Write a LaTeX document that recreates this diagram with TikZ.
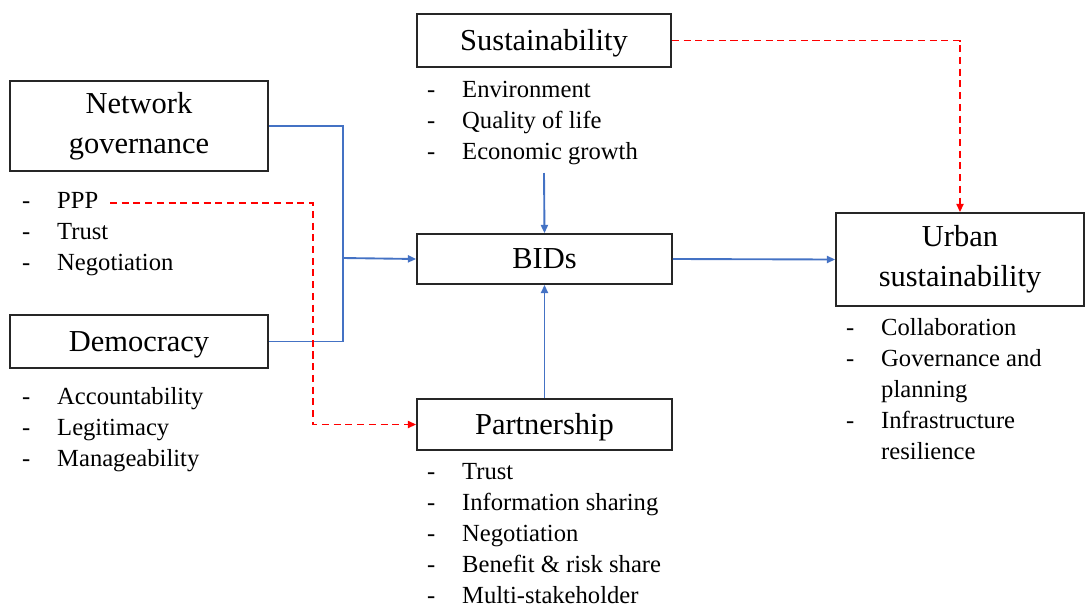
\documentclass[tikz,border=0pt]{standalone}
\usepackage{fontspec}
\setmainfont{LiberationSerif}[Extension=.ttf,UprightFont=*-Regular,BoldFont=*-Bold]
\usetikzlibrary{arrows.meta}
\usetikzlibrary{positioning}
\definecolor{linkblue}{RGB}{68,114,196}
\newcommand{\itemlist}[1]{\begin{tabular}[t]{@{}p{1.05cm}@{}l@{}}#1\end{tabular}}
\tikzset{
x=0.03cm, y=-0.03cm, % one unit = one pixel of the layout
>={Triangle[length=7pt,width=6pt]},
my box/.style={draw=black!85,line width=1.5pt,inner sep=0pt,align=center,
  font=\fontsize{26}{34}\selectfont},
one line/.style={text height=23pt,text depth=6.5pt},
my list/.style={anchor=base west,inner sep=0pt,font=\fontsize{21}{26.5}\selectfont},
blue link/.style={draw=linkblue,line width=1.6pt},
red link/.style={draw=red,line width=1.5pt,dash pattern=on 6pt off 4pt},
}
\begin{document}
\begin{tikzpicture}
\useasboundingbox (0,0) rectangle (1086,608);
% boxes
\node[my box,minimum width=7.74cm,minimum height=2.7cm]  (net)   at (139,126)   {Network\\governance};
\node[my box,one line,minimum width=7.74cm,minimum height=1.59cm] (dem)  at (139,341.5) {Democracy};
\node[my box,one line,minimum width=7.62cm,minimum height=1.59cm] (sus)  at (544,40.5)  {Sustainability};
\node[my box,one line,minimum width=7.65cm,minimum height=1.5cm]  (bids) at (544.5,259) {BIDs};
\node[my box,one line,minimum width=7.65cm,minimum height=1.53cm] (part) at (544.5,424.5) {Partnership};
\node[my box,minimum width=7.44cm,minimum height=2.79cm] (urban) at (960,259.5) {Urban\\sustainability};
% lists
\node[my list] (netlist)   at (22,208)  {\itemlist{-&PPP\\-&Trust\\-&Negotiation}};
\node[my list] (demlist)   at (22,404)  {\itemlist{-&Accountability\\-&Legitimacy\\-&Manageability}};
\node[my list] (suslist)   at (427,97)  {\itemlist{-&Environment\\-&Quality of life\\-&Economic growth}};
\node[my list] (partlist)  at (427,479) {\itemlist{-&Trust\\-&Information sharing\\-&Negotiation\\-&Benefit \& risk share\\-&Multi-stakeholder}};
\node[my list] (urbanlist) at (846,335) {\itemlist{-&Collaboration\\-&Governance and\\&planning\\-&Infrastructure\\&resilience}};
% links
\coordinate (join)      at (343,258);
\coordinate (ppp end)   at (110,203);
\coordinate (red bend)  at (313,300);
\coordinate (sus arrow) at (544,173);
\draw[blue link] (net.east) -| (join) |- (dem.east);
\draw[blue link,->] (join) -- (bids.west);
\draw[blue link,->] (sus arrow) -- (bids.north);
\draw[blue link,->] (part.north) -- (bids.south);
\draw[blue link,->] (bids.east) -- (urban.west);
\draw[red link,->] (ppp end) -| (red bend) |- (part.west);
\draw[red link,->] (sus.east) -| (urban.north);
\end{tikzpicture}
\end{document}
